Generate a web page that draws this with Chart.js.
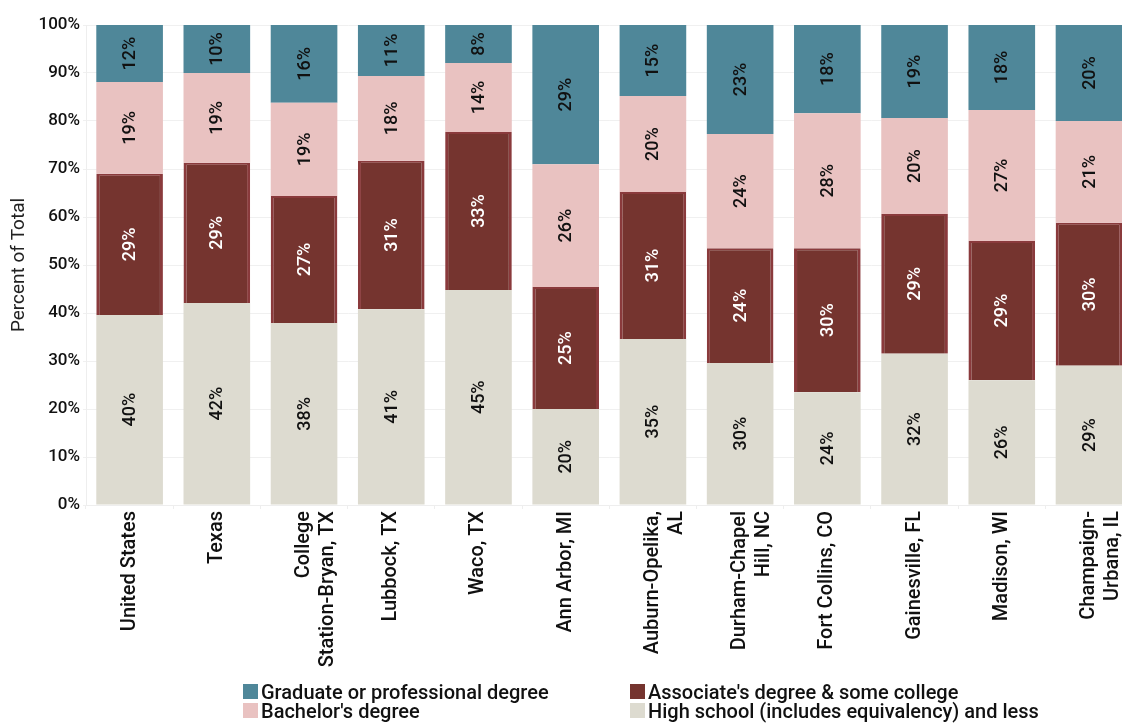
<!DOCTYPE html>
<html>
<head>
<meta charset="utf-8">
<script src="https://cdn.jsdelivr.net/npm/chart.js@4"></script>
<style>
  html, body { margin: 0; padding: 0; background: #fff; overflow: hidden; }
  #wrap { position: relative; width: 1139px; height: 723px; }
  #legend { position: absolute; left: 243px; top: 682px; font-family: Roboto, sans-serif; font-size: 20px; font-weight: 500; color: #111;
            display: grid; grid-template-columns: 387px auto; row-gap: 0px; }
  #legend div { display: flex; align-items: center; height: 19px; }
  #legend span.sw { width: 15px; height: 15px; margin-right: 3px; display: inline-block; }
</style>
</head>
<body>
<div id="wrap">
  <canvas id="myChart" width="1139" height="723"></canvas>
  <div id="legend"></div>
</div>
<script>
// categorias (etiquetas del eje x)
const categories = [
  'United States', 'Texas', ['College', 'Station-Bryan, TX'], 'Lubbock, TX', 'Waco, TX', 'Ann Arbor, MI',
  ['Auburn-Opelika,', 'AL'], ['Durham-Chapel', 'Hill, NC'], 'Fort Collins, CO', 'Gainesville, FL', 'Madison, WI',
  ['Champaign-', 'Urbana, IL']
];

// series (porcentaje del total)
const highSchool = [39.6, 42.1, 37.9, 40.8, 44.8, 20.0, 34.6, 29.6, 23.5, 31.5, 26.0, 29.0];
const associate  = [29.4, 29.2, 26.5, 30.9, 32.9, 25.4, 30.6, 23.9, 30.0, 29.1, 29.0, 29.8];
const bachelor   = [19.1, 18.7, 19.4, 17.7, 14.4, 25.6, 20.0, 23.8, 28.1, 20.0, 27.3, 21.2];
const graduate   = [11.9, 10.0, 16.2, 10.6,  7.9, 29.0, 14.8, 22.7, 18.4, 19.4, 17.7, 20.0];

const yTicks = [0, 10, 20, 30, 40, 50, 60, 70, 80, 90, 100];

const FONT = 'Roboto, "DejaVu Sans", sans-serif';

// etiquetas rotadas dentro de las barras
const barLabels = {
  id: 'barLabels',
  afterDatasetsDraw(chart) {
    const ctx = chart.ctx;
    chart.data.datasets.forEach((ds, i) => {
      const meta = chart.getDatasetMeta(i);
      meta.data.forEach((bar, j) => {
        const v = ds.data[j];
        const cy = (bar.y + bar.base) / 2;
        ctx.save();
        ctx.translate(bar.x, cy);
        ctx.rotate(-Math.PI / 2);
        ctx.font = '500 18px ' + FONT;
        ctx.fillStyle = ds.labelColor;
        ctx.textAlign = 'center';
        ctx.textBaseline = 'middle';
        ctx.fillText(Math.round(v) + '%', 0, 1);
        ctx.restore();
      });
    });
  }
};

const datasets = [
  { label: 'High school (includes equivalency) and less', data: highSchool, backgroundColor: '#dddbd0', labelColor: '#111' },
  { label: "Associate's degree & some college", data: associate, backgroundColor: '#75342f',
    borderColor: '#8a3a3c', borderWidth: { left: 3, right: 3, top: 2, bottom: 3 }, labelColor: '#fff' },
  { label: "Bachelor's degree", data: bachelor, backgroundColor: '#e9c2c1', labelColor: '#111' },
  { label: 'Graduate or professional degree', data: graduate, backgroundColor: '#4f8799', labelColor: '#111' }
];

const ctx = document.getElementById('myChart').getContext('2d');
const myChart = new Chart(ctx, {
  type: 'bar',
  data: { labels: categories, datasets: datasets },
  plugins: [barLabels],
  options: {
    responsive: false,
    animation: false,
    layout: { padding: { top: 25, left: 0, right: 0, bottom: 0 } },
    datasets: { bar: { categoryPercentage: 1, barPercentage: 0.764 } },
    plugins: { legend: { display: false }, tooltip: { enabled: false } },
    scales: {
      x: {
        stacked: true,
        grid: { drawOnChartArea: false, color: '#eeeeee', tickLength: 4, offset: true },
        border: { color: '#eeeeee' },
        ticks: { color: '#111', font: { family: FONT, size: 20, weight: 500 }, minRotation: 90, maxRotation: 90, autoSkip: false, padding: 2 },
        afterFit: s => { s.height = 723 - 505; }
      },
      y: {
        stacked: true,
        min: 0, max: 100,
        afterBuildTicks: s => { s.ticks = yTicks.map(v => ({ value: v })); },
        grid: { color: '#f0f0f0', tickLength: 3 },
        border: { color: '#eeeeee' },
        ticks: { color: '#111', font: { family: FONT, size: 17, weight: 500 }, padding: 3, callback: v => v + '%' },
        title: { display: true, text: 'Percent of Total', color: '#222', font: { family: FONT, size: 19 }, padding: { top: 8, bottom: 0 } },
        afterFit: s => { s.width = 86; }
      }
    }
  }
});

// leyenda en dos columnas
const legendOrder = [3, 1, 2, 0];
const legendEl = document.getElementById('legend');
legendOrder.forEach(i => {
  const d = document.createElement('div');
  d.innerHTML = '<span class="sw" style="background:' + datasets[i].backgroundColor + '"></span>' + datasets[i].label;
  legendEl.appendChild(d);
});
</script>
</body>
</html>
